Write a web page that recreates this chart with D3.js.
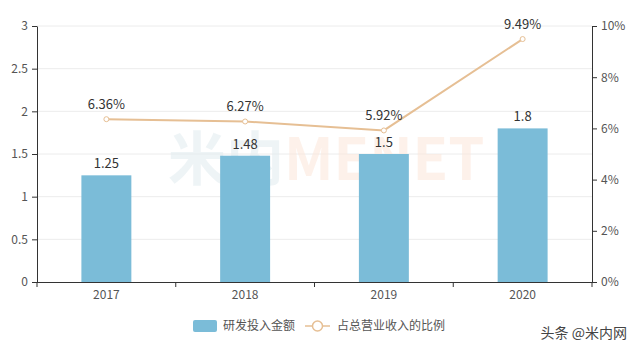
<!DOCTYPE html>
<html>
<head>
<meta charset="utf-8">
<script src="https://cdn.jsdelivr.net/npm/d3@7"></script>
<style>
  body { margin: 0; background: #fff; }
  text { font-family: "Noto Sans CJK SC", "DejaVu Sans", sans-serif; }
</style>
</head>
<body>
<div id="chart"></div>
<script>
const years = ['2017', '2018', '2019', '2020'];
const spend = [1.25, 1.48, 1.5, 1.8];
const ratio = [6.36, 6.27, 5.92, 9.49];
const leftTicks = [0, 0.5, 1, 1.5, 2, 2.5, 3];
const rightTicks = [0, 2, 4, 6, 8, 10];
const legendNames = ['研发投入金额', '占总营业收入的比例'];

const [svgWidth, svgHeight] = [633, 355];
const margin = { left: 37, right: 41, top: 26, bottom: 73 };
const [width, height] = [svgWidth - margin.left - margin.right, svgHeight - margin.top - margin.bottom];

const barColor = '#7bbcd8';
const lineColor = '#e6bf94';
const axisColor = '#333';
const labelColor = '#555';

function translate(x, y) {
    return 'translate(' + x + ',' + y + ')';
}

let svg = d3.select('#chart').append('svg')
    .attr('width', svgWidth)
    .attr('height', svgHeight);

let g = svg.append('g').attr('transform', translate(margin.left, margin.top));

let x = d3.scaleBand().domain(years).range([0, width]).paddingInner(0.64).paddingOuter(0.32);
let yL = d3.scaleLinear().domain([0, 3]).range([height, 0]);
let yR = d3.scaleLinear().domain([0, 10]).range([height, 0]);

// grid
g.append('g').selectAll('line').data(leftTicks.slice(1)).join('line')
    .attr('x1', 0).attr('x2', width)
    .attr('y1', d => yL(d)).attr('y2', d => yL(d))
    .attr('stroke', '#ececec');

// watermark (faint, behind the marks)
let wm = g.append('text')
    .attr('x', 131).attr('y', 154)
    .style('font-size', '58px').style('font-weight', 'bold')
    .attr('font-family', 'DejaVu Sans, sans-serif');
wm.append('tspan').text('米内').attr('fill', '#e2ecf0').attr('fill-opacity', 0.6);
wm.append('tspan').text('MENET').attr('fill', '#fce8dc').attr('fill-opacity', 0.6);

// bars
g.append('g').selectAll('rect').data(spend).join('rect')
    .attr('x', (d, i) => x(years[i]))
    .attr('y', d => yL(d))
    .attr('width', x.bandwidth())
    .attr('height', d => height - yL(d))
    .attr('fill', barColor);

g.append('g').selectAll('text').data(spend).join('text')
    .attr('x', (d, i) => x(years[i]) + x.bandwidth() / 2)
    .attr('y', d => yL(d) - 7)
    .attr('text-anchor', 'middle')
    .attr('fill', '#333')
    .style('font-size', '13px')
    .text(d => d);

// line
const cx = i => x(years[i]) + x.bandwidth() / 2;
let line = d3.line()
    .x((d, i) => cx(i))
    .y(d => yR(d));

g.append('path')
    .datum(ratio)
    .attr('d', line)
    .attr('fill', 'none')
    .attr('stroke', lineColor)
    .attr('stroke-width', 2);

g.append('g').selectAll('circle').data(ratio).join('circle')
    .attr('cx', (d, i) => cx(i))
    .attr('cy', d => yR(d))
    .attr('r', 2.5)
    .attr('fill', '#fff')
    .attr('stroke', lineColor)
    .attr('stroke-width', 1);

g.append('g').selectAll('text').data(ratio).join('text')
    .attr('x', (d, i) => cx(i))
    .attr('y', d => yR(d) - 10)
    .attr('text-anchor', 'middle')
    .attr('fill', '#333')
    .style('font-size', '13px')
    .text(d => d.toFixed(2) + '%');

// axes
function styleAxis(sel) {
    sel.selectAll('path, line').attr('stroke', axisColor);
    sel.selectAll('text').attr('fill', labelColor).style('font-size', '12px');
}

g.append('g').attr('transform', translate(0, height))
    .call(d3.axisBottom(x).tickSize(0).tickPadding(8))
    .call(styleAxis)
    .call(s => s.select('.domain').attr('d', 'M0,0.5H' + width));

// band boundary ticks on x axis
g.append('g').selectAll('line').data(years).join('line')
    .attr('x1', d => x(d) - x.step() * x.paddingInner() / 2)
    .attr('x2', d => x(d) - x.step() * x.paddingInner() / 2)
    .attr('y1', height).attr('y2', height + 5)
    .attr('stroke', axisColor);
g.append('line')
    .attr('x1', width).attr('x2', width)
    .attr('y1', height).attr('y2', height + 5)
    .attr('stroke', axisColor);

g.append('g')
    .call(d3.axisLeft(yL).tickValues(leftTicks).tickFormat(d => String(d))
        .tickSize(5).tickSizeOuter(0).tickPadding(4))
    .call(styleAxis);

g.append('g').attr('transform', translate(width, 0))
    .call(d3.axisRight(yR).tickValues(rightTicks).tickSize(5).tickSizeOuter(0).tickPadding(4).tickFormat(d => d + '%'))
    .call(styleAxis);

// legend
let legend = svg.append('g').attr('transform', translate(193, 326));
legend.append('rect').attr('x', 0).attr('y', -6).attr('width', 24).attr('height', 12)
    .attr('rx', 2).attr('fill', barColor);
legend.append('text').attr('x', 30).attr('y', 0).attr('dy', '0.35em')
    .attr('fill', labelColor).style('font-size', '12px').text(legendNames[0]);
legend.append('line').attr('x1', 112).attr('x2', 137).attr('y1', 0).attr('y2', 0)
    .attr('stroke', lineColor).attr('stroke-width', 1.5);
legend.append('circle').attr('cx', 124.5).attr('cy', 0).attr('r', 5)
    .attr('fill', '#fff').attr('stroke', lineColor).attr('stroke-width', 1.5);
legend.append('text').attr('x', 144).attr('y', 0).attr('dy', '0.35em')
    .attr('fill', labelColor).style('font-size', '12px').text(legendNames[1]);

// source mark
svg.append('text').attr('x', 627).attr('y', 338).attr('text-anchor', 'end')
    .attr('fill', '#444').style('font-size', '14px').text('头条 @米内网');
</script>
</body>
</html>
